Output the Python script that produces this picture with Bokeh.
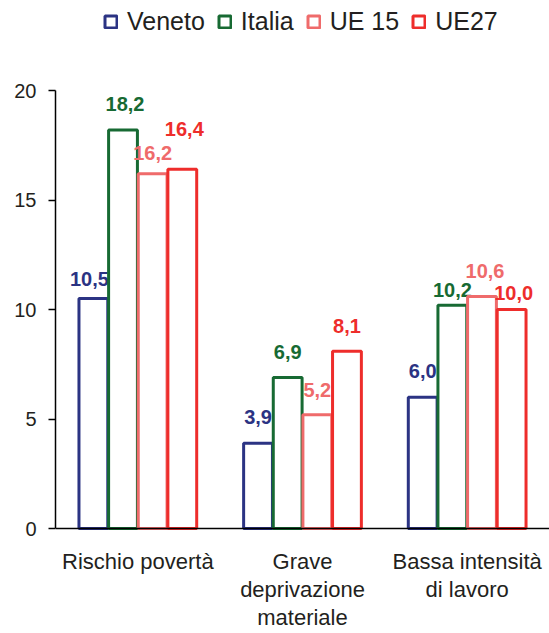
from bokeh.plotting import figure
from bokeh.models import (ColumnDataSource, FactorRange, Range1d, FixedTicker,
                          Legend, LegendItem, Span)
from bokeh.transform import dodge
from bokeh.embed import file_html
from bokeh.resources import INLINE
from bokeh.core.properties import value

# Indicators of poverty and social exclusion (%)
categories = ["Rischio povertà", "Grave deprivazione materiale", "Bassa intensità di lavoro"]
category_labels = ["Rischio povertà", "Grave\ndeprivazione\nmateriale", "Bassa intensità\ndi lavoro"]
series_names = ["Veneto", "Italia", "UE 15", "UE27"]
veneto = [10.5, 3.9, 6.0]
italia = [18.2, 6.9, 10.2]
ue15 = [16.2, 5.2, 10.6]
ue27 = [16.4, 8.1, 10.0]
y_ticks = [0, 5, 10, 15, 20]

series_values = [veneto, italia, ue15, ue27]
colors = ["#2b3383", "#176a33", "#ef6b6b", "#ee2d2b"]
offsets = [-0.27, -0.09, 0.09, 0.27]
bar_width = 0.175
# pixel lift of each value label above its bar top
label_lift = [[20, 26, 26], [26, 25, 15], [21, 25, 25], [40, 25, 17]]
label_shift = [[-4, 0, 0], [2, 0, 0], [0, 0, 3], [2, 0, 2]]

FONT = "Liberation Sans"
TEXT = "#231f20"

p = figure(width=549, height=633, x_range=FactorRange(*categories),
           y_range=Range1d(-4.79, 24.11), output_backend="svg",
           toolbar_location=None, x_axis_location=None)
p.min_border = 0
p.min_border_left = 55
p.outline_line_color = None
p.grid.visible = False
p.background_fill_color = "white"
p.border_fill_color = "white"

yax = p.yaxis[0]
yax.ticker = FixedTicker(ticks=y_ticks)
yax.bounds = (0, 20)
yax.axis_line_color = "black"
yax.axis_line_width = 1.5
yax.major_tick_line_color = "black"
yax.major_tick_line_width = 1.5
yax.major_tick_in = 0
yax.major_tick_out = 7
yax.minor_tick_line_color = None
yax.major_label_standoff = 12
yax.major_label_text_font = FONT
yax.major_label_text_font_size = "20px"
yax.major_label_text_color = TEXT

legend_items = []
for name, vals, col, off, lifts, shifts in zip(series_names, series_values, colors,
                                               offsets, label_lift, label_shift):
    src = ColumnDataSource(dict(
        cat=categories, val=vals,
        txt=[f"{v:.1f}".replace(".", ",") for v in vals],
        lift=[-l for l in lifts], shift=shifts,
    ))
    r = p.vbar(x=dodge("cat", off, range=p.x_range), top="val", bottom=0,
               width=bar_width, source=src, fill_color="white",
               line_color=col, line_width=3)
    p.text(x=dodge("cat", off, range=p.x_range), y="val", text="txt",
           x_offset="shift", y_offset="lift", source=src,
           text_align="center", text_baseline="middle",
           text_font=value(FONT), text_font_style="bold",
           text_font_size="20px", text_color=col)
    legend_items.append(LegendItem(label=name, renderers=[r]))

# category axis baseline
p.add_layout(Span(location=0, dimension="width", line_color="black", line_width=1.5))

# category names below the baseline
lab_src = ColumnDataSource(dict(cat=categories, y=[0] * len(categories), txt=category_labels))
p.text(x="cat", y="y", text="txt", source=lab_src, y_offset=20,
       text_align="center", text_baseline="top", text_line_height=1.12,
       text_font=value(FONT), text_font_size="22px", text_color=TEXT)

legend = Legend(items=legend_items, orientation="horizontal", location=(48, 597),
                padding=0, margin=0, spacing=12, label_standoff=9,
                glyph_width=15, glyph_height=15,
                label_text_font=FONT, label_text_font_size="25px",
                label_text_color=TEXT, border_line_alpha=0,
                background_fill_alpha=0)
p.add_layout(legend)

open("out.html", "w").write(file_html(p, INLINE))
